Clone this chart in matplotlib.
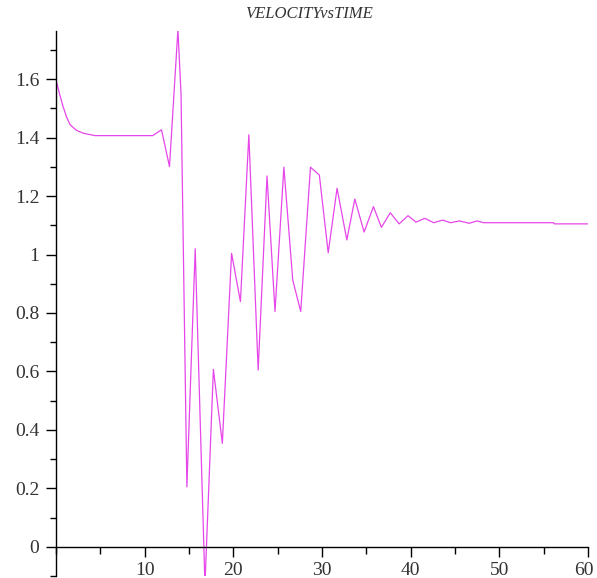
import numpy as np
import matplotlib
matplotlib.use('Agg')
import matplotlib.pyplot as plt
import matplotlib.transforms as mtransforms
from matplotlib.ticker import MultipleLocator

# valeurs (temps, vitesse)
time = [0, 0.4, 0.8, 1.2, 1.6, 2.3, 3.1, 4.4, 10.9, 11.9, 12.8, 13.75, 14.1,
        14.76, 15.7, 16.8, 17.75, 18.76, 19.8, 20.8, 21.75, 22.8, 23.8, 24.7,
        25.7, 26.7, 27.6, 28.7, 29.7, 30.7, 31.7, 32.8, 33.7, 34.75, 35.8,
        36.7, 37.7, 38.7, 39.7, 40.6, 41.6, 42.6, 43.6, 44.5, 45.5, 46.6,
        47.5, 48.2, 56.1, 56.2, 60]
velocity = [1.597, 1.55, 1.506, 1.47, 1.444, 1.425, 1.415, 1.407, 1.407, 1.427,
            1.301, 1.77, 1.55, 0.205, 1.02, -0.13, 0.607, 0.354, 1.004, 0.839,
            1.41, 0.605, 1.269, 0.805, 1.299, 0.913, 0.805, 1.299, 1.272, 1.006,
            1.227, 1.05, 1.19, 1.077, 1.164, 1.093, 1.143, 1.105, 1.133, 1.111,
            1.124, 1.109, 1.118, 1.109, 1.115, 1.107, 1.115, 1.109, 1.109,
            1.105, 1.105]

xticks = [10, 20, 30, 40, 50, 60]
yticks = [0, 0.2, 0.4, 0.6, 0.8, 1.0, 1.2, 1.4, 1.6]
ylabels = ['0', '0.2', '0.4', '0.6', '0.8', '1', '1.2', '1.4', '1.6']

plt.rcParams['font.family'] = ['Liberation Serif', 'DejaVu Serif']

W, H = 597, 578
fig = plt.figure(figsize=(W / 100, H / 100), dpi=100)
ax = fig.add_axes([56 / W, 2 / H, (588 - 56) / W, (576 - 31) / H])

ax.plot(time, velocity, color='#e646ea', lw=0.9, clip_on=True)

ax.set_xlim(0, 60)
ax.set_ylim(-0.1, 1.765)

ax.spines['top'].set_visible(False)
ax.spines['right'].set_visible(False)
ax.spines['bottom'].set_position(('data', 0))
ax.spines['left'].set_linewidth(1.0)
ax.spines['bottom'].set_linewidth(1.0)

ax.set_xticks(xticks)
ax.set_xticklabels([str(v) for v in xticks])
ax.xaxis.set_minor_locator(MultipleLocator(5))
ax.set_yticks(yticks)
ax.set_yticklabels(ylabels)
ax.yaxis.set_minor_locator(MultipleLocator(0.1))

ax.tick_params(axis='x', which='major', direction='out', length=7, width=1,
               pad=4, labelsize=14, labelcolor='#333333')
ax.tick_params(axis='x', which='minor', direction='out', length=5, width=1)
ax.tick_params(axis='y', which='major', direction='out', length=7, width=1,
               pad=5, labelsize=14, labelcolor='#333333')
ax.tick_params(axis='y', which='minor', direction='out', length=4, width=1)

# le dernier label (60) décalé un peu vers la gauche pour rester dans l'image
last = ax.get_xticklabels()[-1]
last.set_transform(last.get_transform() +
                   mtransforms.ScaledTranslation(-4 / 100, 0, fig.dpi_scale_trans))

fig.text(309 / W, 1 - 14 / H, 'VELOCITYvsTIME', ha='center', va='center',
         fontsize=12, style='italic', color='#333333')

plt.savefig('out.png', dpi=100)
plt.close()
